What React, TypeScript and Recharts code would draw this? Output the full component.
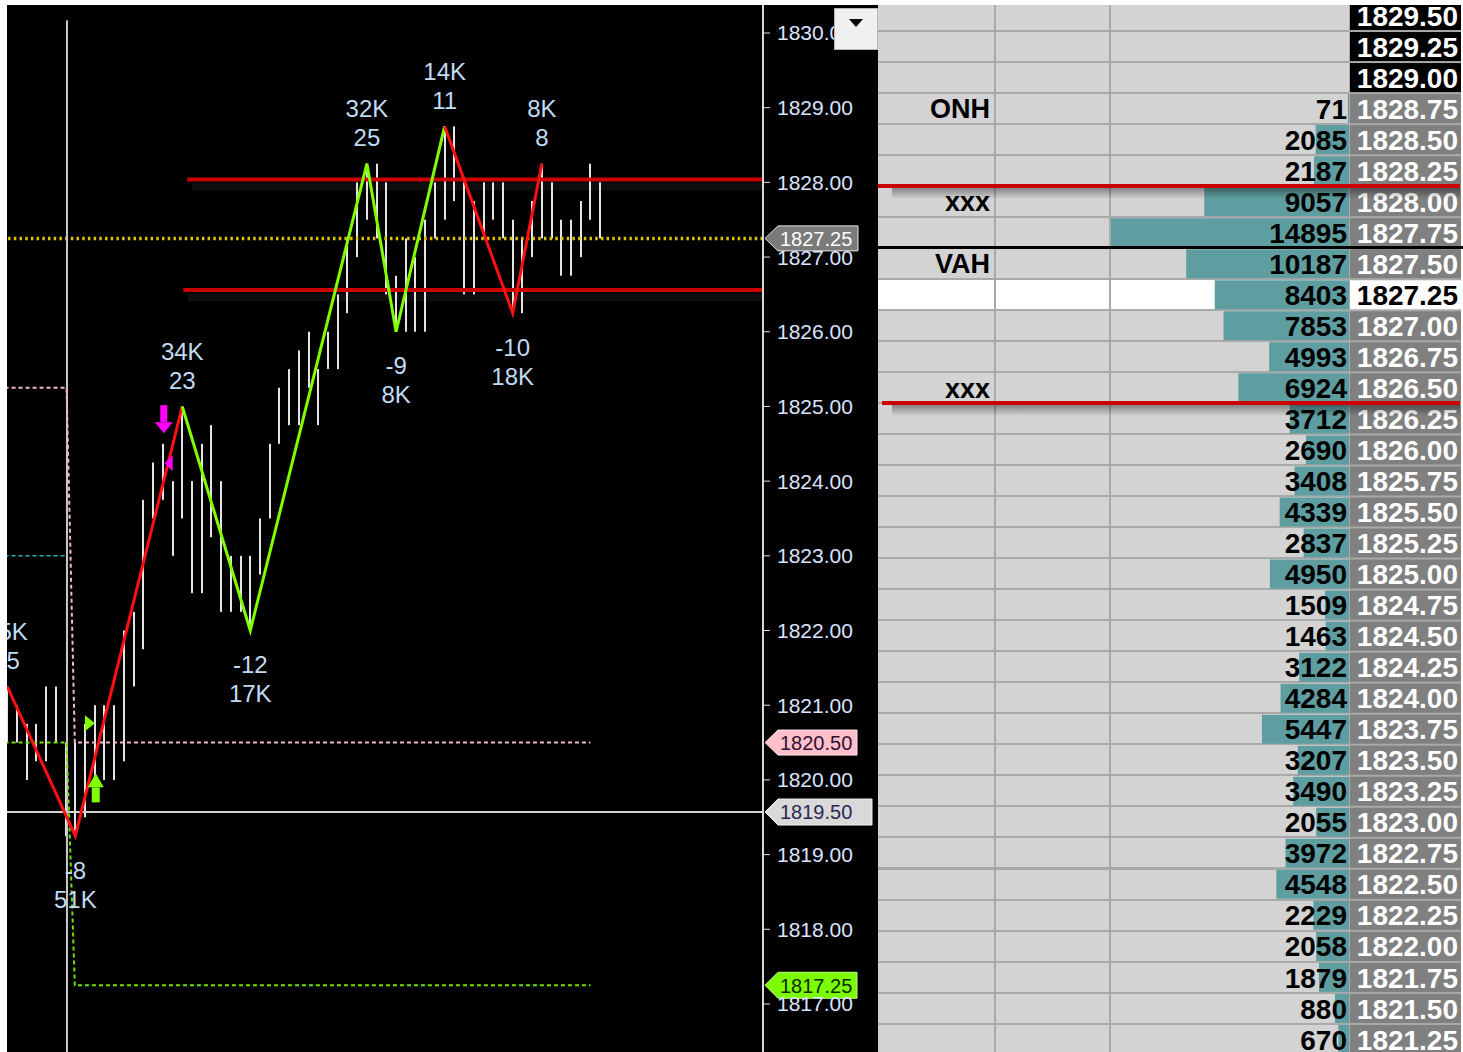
import React from "react";
import {
  Bar,
  BarChart,
  ComposedChart,
  LabelList,
  Line,
  ReferenceArea,
  ReferenceDot,
  ReferenceLine,
  Scatter,
  XAxis,
  YAxis
} from "recharts";

// ---------- price chart (range bars, one per index) ----------
const barHigh = [
  1821.25, 1821.0, 1820.75, 1820.75, 1821.25, 1821.25, 1820.5, 1820.5, 1820.75, 1821.0,
  1821.0, 1821.0, 1822.0, 1822.25, 1823.75, 1824.25, 1824.5, 1824.0, 1825.0, 1824.0,
  1824.5, 1824.75, 1824.0, 1823.0, 1823.0, 1823.0, 1823.5, 1824.5, 1825.25, 1825.5,
  1825.75, 1826.0, 1825.5, 1826.0, 1826.5, 1827.25, 1828.0, 1828.25, 1828.25, 1828.0,
  1826.75, 1827.25, 1827.0, 1827.5, 1828.0, 1828.75, 1828.75, 1828.0, 1827.75, 1828.0,
  1828.0, 1828.0, 1827.5, 1827.25, 1827.75, 1828.25, 1828.0, 1827.5, 1827.5, 1827.75,
  1828.25, 1828.0
];
const barLow = [
  1820.5, 1820.5, 1820.0, 1820.25, 1820.25, 1820.5, 1819.25, 1819.25, 1819.5, 1820.0,
  1820.0, 1820.0, 1820.25, 1821.25, 1821.75, 1823.5, 1823.75, 1823.0, 1823.5, 1822.5,
  1822.5, 1823.25, 1822.25, 1822.25, 1822.25, 1822.0, 1822.75, 1823.5, 1824.5, 1824.75,
  1824.75, 1825.25, 1824.75, 1825.5, 1825.5, 1826.25, 1827.0, 1827.5, 1827.25, 1826.5,
  1826.0, 1826.0, 1826.0, 1826.0, 1827.25, 1827.5, 1827.75, 1826.5, 1826.5, 1827.25,
  1827.5, 1827.25, 1826.25, 1826.25, 1827.0, 1827.25, 1827.25, 1826.75, 1826.75, 1827.0,
  1827.5, 1827.25
];

// zigzag swing points
const pivotBars = [0, 7, 18, 25, 37, 40, 45, 52, 55];
const pivotPrices = [1821.25, 1819.25, 1825.0, 1822.0, 1828.25, 1826.0, 1828.75, 1826.25, 1828.25];
const pivotVolumes = ["5K", "51K", "34K", "17K", "32K", "8K", "14K", "18K", "8K"];
const pivotDeltas = ["5", "-8", "23", "-12", "25", "-9", "11", "-10", "8"];
const pivotLabelBars = [0.6, 7, 18, 25, 37, 40, 45, 52, 55];
// legs of the zigzag: first pivot, last pivot, direction colour
const legFrom = [0, 2, 6];
const legTo = [2, 6, 8];
const legTrend = ["down", "up", "down"];

// stepped levels on the left
const pinkStepBars = [-1, 6.1, 6.95, 60];
const pinkStepPrices = [1825.25, 1825.25, 1820.5, 1820.5];
const greenStepBars = [-1, 6.1, 6.95, 60];
const greenStepPrices = [1820.5, 1820.5, 1817.25, 1817.25];
const cyanStepBars = [-1, 6.1];
const cyanStepPrices = [1823.0, 1823.0];

// thick red zone lines
const zoneLevels = [1828.04, 1826.56];
const zoneStartBars = [18.5, 18.1];

const lastPrice = 1827.25;
const crosshairBar = 6.14;
const crosshairPrice = 1819.57;
const crosshairTop = 1830.17;

// signal markers
const markerBars = [16.1, 16.6, 8.5, 9.1];
const markerPrices = [1824.83, 1824.24, 1820.76, 1819.9];
const markerKinds = ["sellArrow", "sellTri", "buyTri", "buyArrow"];

const priceTicks = [1817, 1818, 1819, 1820, 1821, 1822, 1823, 1824, 1825, 1826, 1827, 1828, 1829, 1830];

// tags on the price axis
const tagPrices = [1827.25, 1820.5, crosshairPrice, 1817.25];
const tagTexts = ["1827.25", "1820.50", "1819.50", "1817.25"];

// ---------- DOM ladder ----------
const ladderPrices = [
  "1829.50", "1829.25", "1829.00", "1828.75", "1828.50", "1828.25", "1828.00", "1827.75",
  "1827.50", "1827.25", "1827.00", "1826.75", "1826.50", "1826.25", "1826.00", "1825.75",
  "1825.50", "1825.25", "1825.00", "1824.75", "1824.50", "1824.25", "1824.00", "1823.75",
  "1823.50", "1823.25", "1823.00", "1822.75", "1822.50", "1822.25", "1822.00", "1821.75",
  "1821.50", "1821.25"
];
const ladderVolumes = [
  null, null, null, 71, 2085, 2187, 9057, 14895,
  10187, 8403, 7853, 4993, 6924, 3712, 2690, 3408,
  4339, 2837, 4950, 1509, 1463, 3122, 4284, 5447,
  3207, 3490, 2055, 3972, 4548, 2229, 2058, 1879,
  880, 670
];
const levelPrices = ["1828.75", "1828.00", "1827.50", "1826.50"];
const levelTexts = ["ONH", "xxx", "VAH", "xxx"];
const currentPrice = "1827.25";
const redRuleAfter = ["1828.25", "1826.50"];
const blackRuleAfter = ["1827.75"];

// ---------- layout / style ----------
const X_MIN = -0.03;
const X_MAX = 77.75;
const Y_MIN = 1816.357;
const Y_MAX = 1830.375;
const ROW_H = 31.03;
const LADDER_TOP = -0.33;

const RED = "#ff1010";
const GREEN = "#80ff00";
const ZONE_RED = "#cc0000";
const LABEL_BLUE = "#c0dcf4";

const tagStyles = [
  { fill: "#7a7a7a", stroke: "#e8e8e8", color: "#ffffff", w: 93, h: 25 },
  { fill: "#ffc0cb", stroke: "#ffe4ea", color: "#301030", w: 92, h: 25 },
  { fill: "#d9d9d9", stroke: "#f2f2f2", color: "#282850", w: 107, h: 26 },
  { fill: "#7cfc00", stroke: "#b8ff80", color: "#0c2a00", w: 92, h: 26 }
];

const barData = barHigh.map((h, k) => ({ k, range: [barLow[k], h] }));
const pivotLabelData = pivotBars.map((_, i) => {
  const p = pivotPrices;
  const high = i < p.length - 1 ? p[i] > p[i + 1] : p[i] > p[i - 1];
  return { k: pivotLabelBars[i], price: p[i], vol: pivotVolumes[i], delta: pivotDeltas[i], high };
});
const markerData = markerBars.map((k, i) => ({ k, price: markerPrices[i], kind: markerKinds[i] }));
const stepData = (ks: number[], ps: number[]) => ks.map((k, i) => ({ k, price: ps[i] }));

function PivotLabel(props: any) {
  const { cx, cy, payload } = props;
  const lines = payload.high ? [payload.vol, payload.delta] : [payload.delta, payload.vol];
  const y0 = payload.high ? cy - 55 : cy + 34;
  return (
    <g>
      {lines.map((t: string, i: number) => (
        <text key={i} x={cx} y={y0 + i * 29} dy="0.36em" textAnchor="middle" fontSize={24} fill={LABEL_BLUE}>
          {t}
        </text>
      ))}
    </g>
  );
}

function Marker(props: any) {
  const { cx, cy, payload } = props;
  const m = "#ff00ff";
  switch (payload.kind) {
    case "sellArrow":
      return (
        <g fill={m}>
          <rect x={cx - 3.5} y={cy - 14} width={7} height={17} />
          <polygon points={`${cx - 9},${cy + 3} ${cx + 9},${cy + 3} ${cx},${cy + 14}`} />
        </g>
      );
    case "sellTri":
      return <polygon fill={m} points={`${cx - 4},${cy} ${cx + 4},${cy - 8} ${cx + 4},${cy + 8}`} />;
    case "buyTri":
      return <polygon fill={GREEN} points={`${cx + 5},${cy} ${cx - 5},${cy - 8} ${cx - 5},${cy + 8}`} />;
    default:
      return (
        <g fill={GREEN}>
          <polygon points={`${cx},${cy - 14} ${cx - 8},${cy} ${cx + 8},${cy}`} />
          <rect x={cx - 4} y={cy} width={8} height={15} />
        </g>
      );
  }
}

const tagShape = (i: number) => (props: any) => {
  const { cx, cy } = props;
  const st = tagStyles[i];
  const tip = cx + 2;
  const body = tip + 13;
  const right = tip + st.w;
  const h = st.h / 2;
  return (
    <g>
      <polygon
        points={`${tip},${cy} ${body},${cy - h} ${right},${cy - h} ${right},${cy + h} ${body},${cy + h}`}
        fill={st.fill}
        stroke={st.stroke}
        strokeWidth={1}
      />
      <text x={body + 2} y={cy} dy="0.36em" fontSize={20} fill={st.color}>
        {tagTexts[i]}
      </text>
    </g>
  );
};

// crisp 2px range bar centred on its index
function RangeBar(props: any) {
  const { x, y, width, height } = props;
  if (height == null) return <g />;
  const cx = Math.round(x + width / 2);
  const top = Math.min(y, y + height);
  return <rect x={cx - 1} y={top} width={2} height={Math.abs(height)} fill="#e4e4e4" />;
}

function PriceChart() {
  return (
    <ComposedChart width={871} height={1047} data={barData} margin={{ top: 0, right: 0, bottom: 0, left: 0 }}>
      <XAxis type="number" dataKey="k" domain={[X_MIN, X_MAX]} allowDataOverflow hide />
      <YAxis
        orientation="right"
        type="number"
        domain={[Y_MIN, Y_MAX]}
        allowDataOverflow
        ticks={priceTicks}
        interval={0}
        width={115}
        tickSize={7}
        tickMargin={7}
        tickFormatter={(v: number) => v.toFixed(2)}
        tick={{ fill: "#dbe4ff", fontSize: 21 }}
        tickLine={{ stroke: "#e0e0e0" }}
        axisLine={{ stroke: "#d8d8d8", strokeWidth: 2 }}
      />

      {zoneLevels.map((lvl, i) => (
        <ReferenceArea
          key={"sh" + i}
          x1={zoneStartBars[i] + 0.5}
          x2={X_MAX}
          y1={lvl - 0.05}
          y2={lvl - 0.15}
          fill="#ffffff"
          fillOpacity={0.06}
          stroke="none"
        />
      ))}

      <ReferenceLine y={lastPrice} stroke="#e0c000" strokeWidth={3.5} strokeDasharray="2.5 3.2" />
      <ReferenceLine y={crosshairPrice} stroke="#d4d4d4" strokeWidth={2} />
      <ReferenceLine
        segment={[
          { x: crosshairBar, y: crosshairTop },
          { x: crosshairBar, y: Y_MIN }
        ]}
        stroke="#c8c8c8"
        strokeWidth={2}
      />

      <Bar dataKey="range" barSize={2} fill="#e4e4e4" shape={RangeBar} isAnimationActive={false} />

      <Line
        data={stepData(cyanStepBars, cyanStepPrices)}
        dataKey="price"
        stroke="#20b4b4"
        strokeWidth={1.5}
        strokeDasharray="4 3"
        dot={false}
        isAnimationActive={false}
      />
      <Line
        data={stepData(pinkStepBars, pinkStepPrices)}
        dataKey="price"
        stroke="#f0b8c8"
        strokeWidth={2}
        strokeDasharray="4 3"
        dot={false}
        isAnimationActive={false}
      />
      <Line
        data={stepData(greenStepBars, greenStepPrices)}
        dataKey="price"
        stroke="#70e000"
        strokeWidth={2}
        strokeDasharray="4 3"
        dot={false}
        isAnimationActive={false}
      />

      {zoneLevels.map((lvl, i) => (
        <ReferenceLine
          key={"z" + i}
          segment={[
            { x: zoneStartBars[i], y: lvl },
            { x: X_MAX, y: lvl }
          ]}
          stroke={ZONE_RED}
          strokeWidth={4}
        />
      ))}

      {legFrom.map((from, i) => (
        <Line
          key={"leg" + i}
          data={pivotBars.slice(from, legTo[i] + 1).map((k, j) => ({ k, price: pivotPrices[from + j] }))}
          dataKey="price"
          stroke={legTrend[i] === "up" ? GREEN : RED}
          strokeWidth={3}
          dot={false}
          isAnimationActive={false}
        />
      ))}

      <Scatter data={markerData} dataKey="price" shape={Marker} isAnimationActive={false} />
      <Scatter data={pivotLabelData} dataKey="price" shape={PivotLabel} isAnimationActive={false} />

      {tagPrices.map((p, i) => (
        <ReferenceDot key={"tag" + i} x={X_MAX} y={p} r={0} ifOverflow="visible" shape={tagShape(i)} />
      ))}
    </ComposedChart>
  );
}

function PriceTick(props: any) {
  const { y, payload } = props;
  const price = payload.value as string;
  const i = ladderPrices.indexOf(price);
  const current = price === currentPrice;
  const untraded = ladderVolumes[i] == null;
  const bg = current ? "#ffffff" : untraded ? "#000000" : "#808080";
  const fg = current ? "#000000" : "#ffffff";
  return (
    <g>
      <rect x={472} y={y - ROW_H / 2 + 1} width={111} height={ROW_H - 2} fill={bg} />
      <text x={580} y={y} dy="0.36em" textAnchor="end" fontSize={28} fontWeight="bold" fill={fg}>
        {price}
      </text>
    </g>
  );
}

function LevelTick(props: any) {
  const { y, payload } = props;
  const j = levelPrices.indexOf(payload.value);
  if (j < 0) return <g />;
  return (
    <text x={112} y={y} dy="0.36em" textAnchor="end" fontSize={27} fontWeight="bold" fill="#000000">
      {levelTexts[j]}
    </text>
  );
}

function VolLabel(props: any) {
  const { x, y, width, height, value } = props;
  if (value == null) return null;
  const right = Math.max(x, x + width);
  return (
    <text x={right - 2} y={y + height / 2} dy="0.36em" textAnchor="end" fontSize={28} fontWeight="bold" fill="#000000">
      {value}
    </text>
  );
}

function Ladder() {
  const data = ladderPrices.map((price, i) => ({ price, vol: ladderVolumes[i] }));
  const h = ladderPrices.length * ROW_H;
  const boundary = (p: string) => (ladderPrices.indexOf(p) + 1) * ROW_H;
  return (
    <div style={{ position: "absolute", left: 878, top: 5, width: 585, height: 1047, overflow: "hidden" }}>
      <div style={{ position: "absolute", left: 0, top: LADDER_TOP - 5, width: 583, height: h, background: "#a9a9a9" }}>
        {ladderPrices.map((p, i) => {
          const bg = p === currentPrice ? "#ffffff" : "#d3d3d3";
          const top = i * ROW_H + 1;
          const cell = { position: "absolute" as const, top, height: ROW_H - 2, background: bg };
          return (
            <React.Fragment key={p}>
              <div style={{ ...cell, left: 0, width: 116 }} />
              <div style={{ ...cell, left: 118, width: 113 }} />
              <div style={{ ...cell, left: 233, width: 238 }} />
            </React.Fragment>
          );
        })}
      </div>
      <div style={{ position: "absolute", left: 0, top: LADDER_TOP - 5 }}>
        <BarChart
          layout="vertical"
          width={583}
          height={h}
          data={data}
          margin={{ top: 0, right: 0, bottom: 0, left: 0 }}
          barCategoryGap={1}
        >
          <XAxis type="number" domain={[0, 14895]} reversed hide />
          <YAxis
            type="category"
            dataKey="price"
            width={233}
            interval={0}
            tickLine={false}
            axisLine={false}
            tick={(p: any) => <LevelTick {...p} />}
          />
          <YAxis
            yAxisId="px"
            orientation="right"
            type="category"
            dataKey="price"
            width={112}
            interval={0}
            tickLine={false}
            axisLine={false}
            tick={(p: any) => <PriceTick {...p} />}
          />
          <Bar dataKey="vol" fill="#5f9ea0" isAnimationActive={false}>
            <LabelList dataKey="vol" content={(p: any) => <VolLabel {...p} />} />
          </Bar>
        </BarChart>
      </div>
      <div style={{ position: "absolute", left: 0, top: LADDER_TOP - 5, width: 585, height: h, pointerEvents: "none" }}>
        {redRuleAfter.map((p, i) => (
          <React.Fragment key={p}>
            <div
              style={{
                position: "absolute",
                left: 14,
                width: 568,
                top: boundary(p) + 2,
                height: 11,
                background: "linear-gradient(to bottom, rgba(0,0,0,0.38), rgba(0,0,0,0))"
              }}
            />
            <div
              style={{
                position: "absolute",
                left: i === 0 ? 0 : 4,
                width: i === 0 ? 582 : 578,
                top: boundary(p) - 2,
                height: 4,
                background: ZONE_RED
              }}
            />
          </React.Fragment>
        ))}
        {blackRuleAfter.map((p) => (
          <div
            key={p}
            style={{ position: "absolute", left: 0, width: 585, top: boundary(p) - 1.5, height: 3, background: "#000000" }}
          />
        ))}
      </div>
    </div>
  );
}

export default function App() {
  return (
    <div
      style={{
        position: "absolute",
        left: 0,
        top: 0,
        width: 1463,
        height: 1052,
        background: "#ffffff",
        overflow: "hidden",
        fontFamily: "'Liberation Sans', Arial, sans-serif"
      }}
    >
      <div style={{ position: "absolute", left: 7, top: 5, width: 871, height: 1047, background: "#000000" }}>
        <PriceChart />
      </div>
      <div
        style={{
          position: "absolute",
          left: 834,
          top: 8,
          width: 42,
          height: 40,
          background: "#f0f0f0",
          border: "1px solid #b8b8b8"
        }}
      >
        <div
          style={{
            position: "absolute",
            left: 14,
            top: 10,
            width: 0,
            height: 0,
            borderLeft: "7px solid transparent",
            borderRight: "7px solid transparent",
            borderTop: "8px solid #000000"
          }}
        />
      </div>
      <Ladder />
    </div>
  );
}
